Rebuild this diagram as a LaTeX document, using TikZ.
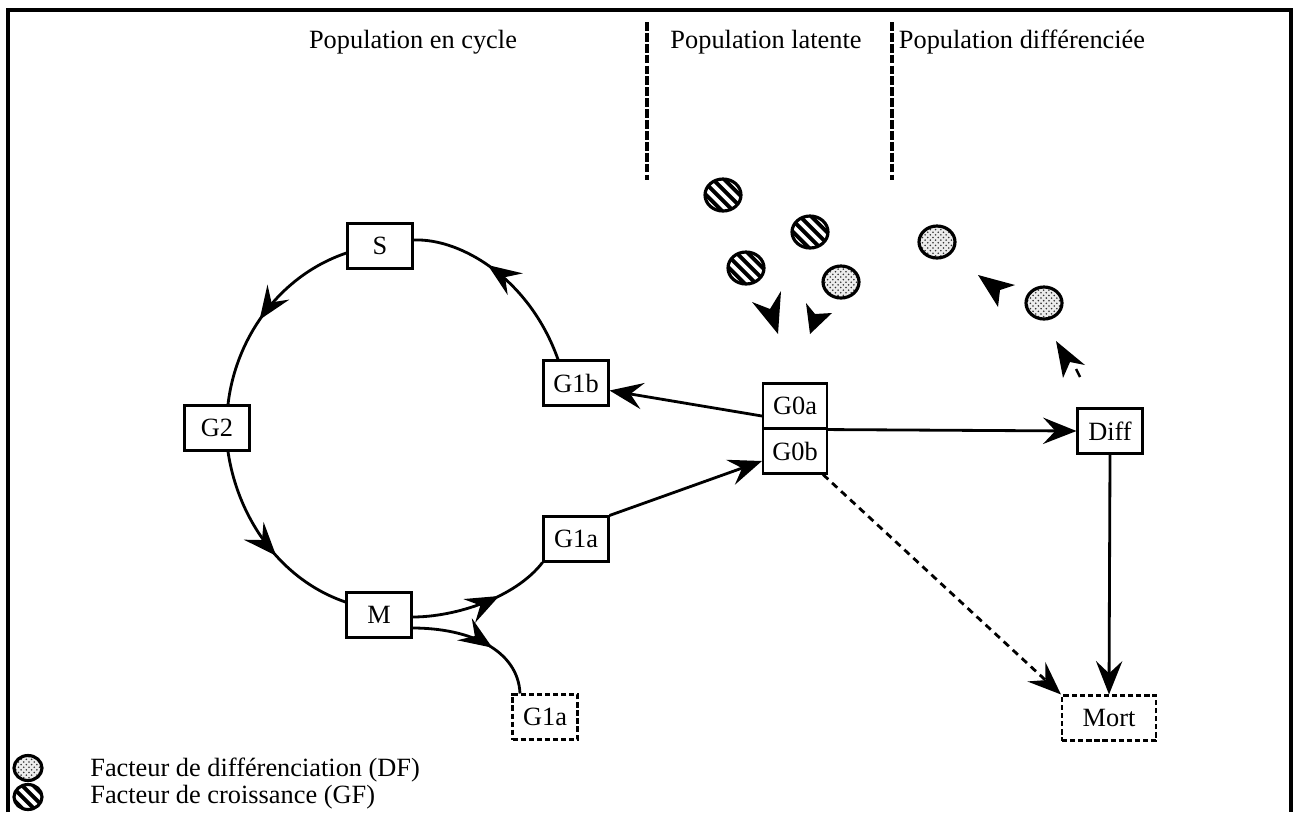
\documentclass[tikz,border=0pt]{standalone}
\usepackage{fontspec}
\setmainfont{Liberation Serif}
\usetikzlibrary{arrows.meta,decorations.markings,shapes.geometric,patterns}
\tikzset{
  box/.style={draw, line width=1.2pt, minimum width=1.3cm, minimum height=0.9cm, inner sep=0pt},
  dbox/.style={box, dash pattern=on 3pt off 1.6pt},
  conn/.style={line width=1.6pt},
  tipstyle/.style={-{Stealth[length=19pt,width=15pt,inset=7pt]}},
  midarrow/.style={postaction={decorate}, decoration={markings, mark=at position #1 with {\arrow{Stealth[length=19pt,width=15pt,inset=7pt]}}}},
  sep/.style={line width=2.6pt, dash pattern=on 5pt off 1.2pt},
  gf/.style={ellipse, draw, line width=1.8pt, minimum width=0.72cm, minimum height=0.64cm, inner sep=0pt,
    path picture={\foreach \d in {-0.24,-0.08,0.08,0.24}
      \draw[line width=2.2pt] ([shift={({\d*0.707cm-0.6cm},{\d*0.707cm+0.6cm})}]path picture bounding box.center) -- ++(1.2cm,-1.2cm);}},
  df/.style={ellipse, draw, line width=1.8pt, minimum width=0.72cm, minimum height=0.64cm, inner sep=0pt,
    preaction={fill=gray!15}, pattern=crosshatch dots, pattern color=black!80},
  small/.style={minimum width=0.56cm, minimum height=0.5cm},
  lbl/.style={inner sep=0pt, anchor=west}
}
\begin{document}
\begin{tikzpicture}[x=0.02cm, y=-0.02cm, font=\fontsize{15}{18}\selectfont]
\useasboundingbox (0,0) rectangle (1293,812);
% frame
\draw[line width=1.8pt] (8,812) -- (8,10) -- (1291,10) -- (1291,812);
% separators
\coordinate (s1t) at (647,22); \coordinate (s1b) at (647,180);
\coordinate (s2t) at (892,22); \coordinate (s2b) at (892,180);
\draw[sep] (s1t) -- (s1b);
\draw[sep] (s2t) -- (s2b);
% headings
\node (h1) at (413,42) {Population en cycle};
\node (h2) at (766,42) {Population latente};
\node (h3) at (1022,42) {Population différenciée};
% boxes
\node[box] (S) at (380,246) {S};
\node[box] (G2) at (217,428) {G2};
\node[box] (M) at (379,615) {M};
\node[box] (G1b) at (576,383) {G1b};
\node[box] (G1a) at (576,539) {G1a};
\node[dbox] (G1c) at (545,717) {G1a};
\node[box, minimum width=1.28cm] (G0a) at (795,406) {G0a};
\node[box, minimum width=1.28cm] (G0b) at (795,451) {G0b};
\node[box] (Diff) at (1110,431) {Diff};
\node[dbox, minimum width=1.88cm] (Mort) at (1109,718) {Mort};
% cycle
\draw[conn, midarrow=0.55] ([yshift=-0.14cm]S.west) .. controls (281,275) and (236,336) .. ([xshift=0.22cm]G2.north);
\draw[conn, midarrow=0.58] ([xshift=0.22cm]G2.south) .. controls (238,519) and (281,580) .. ([yshift=0.26cm]M.west);
\draw[conn, midarrow=0.6] ([xshift=-0.36cm]G1b.north) .. controls (530,280) and (462,238) .. ([yshift=0.12cm]S.east);
\draw[conn, midarrow=0.62] ([yshift=-0.04cm]M.east) .. controls (455,617) and (515,598) .. (G1a.south west);
\draw[conn, midarrow=0.6] ([yshift=-0.26cm]M.east) .. controls (470,628) and (518,650) .. ([xshift=-0.5cm]G1c.north);
% straight connectors
\draw[conn, tipstyle] (G1a.north east) -- ([yshift=-0.2cm]G0b.west);
\draw[conn, tipstyle] ([yshift=-0.2cm]G0a.west) -- ([yshift=-0.15cm]G1b.east);
\draw[conn, tipstyle] (G0a.south east) -- (Diff.west);
\draw[conn, tipstyle, dash pattern=on 4pt off 3pt] ([xshift=-0.1cm]G0b.south east) -- (Mort.north west);
\draw[conn, tipstyle] (Diff.south) -- (Mort.north);
% growth / differentiation factors
\node[gf] (gf1) at (723,195) {};
\node[gf] (gf2) at (810,232) {};
\node[gf] (gf3) at (746,268) {};
\node[df] (df1) at (841,282) {};
\node[df] (df2) at (937,242) {};
\node[df] (df3) at (1044,303) {};
% free arrowheads
\fill (778,334) -- (752,302) -- (770,309) -- (781,291) -- cycle;
\fill (810,334) -- (806,303) -- (815,314) -- (832,313) -- cycle;
\fill (978,275) -- (1015,285) -- (1000,290) -- (998,307) -- cycle;
\fill (1056,341) -- (1085,365) -- (1070,362) -- (1063,378) -- cycle;
\draw[line width=1.4pt] (1076,369) -- (1080,377);
% legend
\node[df, small] (ldf) at (28,768) {};
\node[gf, small] (lgf) at (28,797) {};
\node[lbl] (tdf) at (90,770) {Facteur de différenciation (DF)};
\node[lbl] (tgf) at (90,797) {Facteur de croissance (GF)};
\end{tikzpicture}
\end{document}
